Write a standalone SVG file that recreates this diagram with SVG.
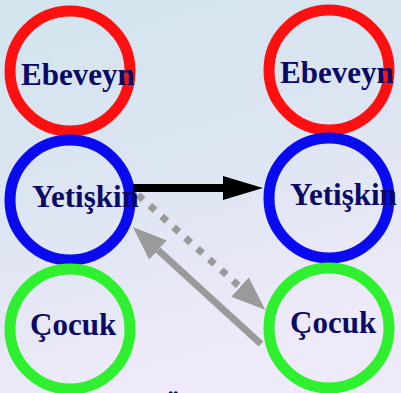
<svg xmlns="http://www.w3.org/2000/svg" width="401" height="393" viewBox="0 0 401 393">
  <defs>
    <linearGradient id="bg" x1="0" y1="0" x2="0.3" y2="1">
      <stop offset="0" stop-color="#d2e5ee"/>
      <stop offset="0.5" stop-color="#dde5f2"/>
      <stop offset="1" stop-color="#efeaf9"/>
    </linearGradient>
    <marker id="headBlack" markerUnits="userSpaceOnUse" markerWidth="40" markerHeight="24" refX="0" refY="12" orient="auto">
      <path d="M0,0 L40,12 L0,24 Z" fill="#000"/>
    </marker>
    <marker id="headGray" markerUnits="userSpaceOnUse" markerWidth="34" markerHeight="26" refX="0" refY="13" orient="auto">
      <path d="M0,0 L34,13 L0,26 Z" fill="#9a9a9a"/>
    </marker>
  </defs>
  <style>
    .ring { fill: none; stroke-width: 11; }
    .red { stroke: #ff1010; }
    .blue { stroke: #0a0af0; }
    .green { stroke: #2ef02e; }
    .lbl { font-family: "Liberation Serif", "Times New Roman", serif; font-weight: bold; font-size: 31px; fill: #0a0a66; }
    .gray { stroke: #9a9a9a; stroke-width: 7; fill: none; }
  </style>
  <rect x="0" y="0" width="401" height="393" fill="url(#bg)"/>

  <g id="ebeveyn-left"><circle class="ring red" cx="70" cy="71" r="60"/></g>
  <g id="ebeveyn-right"><circle class="ring red" cx="329" cy="70" r="60"/></g>
  <g id="yetiskin-left"><circle class="ring blue" cx="70" cy="200" r="60"/></g>
  <g id="yetiskin-right"><circle class="ring blue" cx="329" cy="198" r="60"/></g>
  <g id="cocuk-left"><circle class="ring green" cx="70" cy="329" r="60"/></g>
  <g id="cocuk-right"><circle class="ring green" cx="329" cy="328" r="60"/></g>

  <g id="connectors">
    <line x1="133" y1="188" x2="223" y2="188" stroke="#000" stroke-width="8" marker-end="url(#headBlack)"/>
    <line class="gray" x1="138" y1="195" x2="240" y2="287" stroke-dasharray="7 9" marker-end="url(#headGray)"/>
    <line class="gray" x1="261" y1="344" x2="158" y2="250" marker-end="url(#headGray)"/>
  </g>

  <g id="labels">
    <text class="lbl" x="21" y="85">Ebeveyn</text>
    <text class="lbl" x="280" y="83">Ebeveyn</text>
    <text class="lbl" x="32" y="207">Yetişkin</text>
    <text class="lbl" x="290" y="205">Yetişkin</text>
    <text class="lbl" x="30" y="335">Çocuk</text>
    <text class="lbl" x="290" y="333">Çocuk</text>
    <text class="lbl" x="161" y="418" fill="#000">Ö</text>
  </g>
</svg>
